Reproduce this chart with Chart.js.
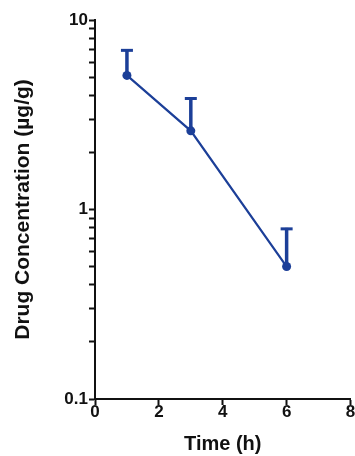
<!DOCTYPE html>
<html>
<head>
<meta charset="utf-8">
<script src="https://cdn.jsdelivr.net/npm/chart.js@4"></script>
<style>
  html, body { margin: 0; padding: 0; background: #fff; }
  #wrap { width: 355px; height: 456px; }
</style>
</head>
<body>
<div id="wrap"><canvas id="c" width="355" height="456"></canvas></div>
<script>
// Drug concentration vs time, log y-axis, upward-only SD bars.

const timeH = [1, 3, 6];
const concMean = [5.1, 2.6, 0.5];
const concSD = [1.9, 1.3, 0.3];
const xTicks = [0, 2, 4, 6, 8];
const yLabels = [0.1, 1, 10];

const BLUE = '#1c3f98';
const INK = '#111';
const FONT = { family: 'Liberation Sans, Arial, sans-serif', weight: 'bold' };

// every 1..9 step of each decade, for the minor tick marks
const yTicks = [];
[0.1, 1].forEach((d) => {
  for (let k = 1; k <= 9; k++) yTicks.push(+(k * d).toFixed(2));
});
yTicks.push(10);

// draw the SD whiskers (upper only) with the chart's own scales
const errorBars = {
  id: 'errorBars',
  afterDatasetsDraw(chart) {
    const { ctx, scales: { x, y } } = chart;
    ctx.save();
    ctx.strokeStyle = BLUE;
    ctx.lineCap = 'butt';
    timeH.forEach((t, i) => {
      const px = x.getPixelForValue(t);
      const py0 = y.getPixelForValue(concMean[i]);
      const py1 = y.getPixelForValue(concMean[i] + concSD[i]);
      ctx.lineWidth = 3.5;
      ctx.beginPath();
      ctx.moveTo(px, py0);
      ctx.lineTo(px, py1);
      ctx.stroke();
      ctx.lineWidth = 3;
      ctx.beginPath();
      ctx.moveTo(px - 6, py1 + 1);
      ctx.lineTo(px + 6, py1 + 1);
      ctx.stroke();
    });
    ctx.restore();
  },
};

new Chart(document.getElementById('c'), {
  type: 'line',
  data: {
    datasets: [{
      data: timeH.map((t, i) => ({ x: t, y: concMean[i] })),
      borderColor: BLUE,
      backgroundColor: BLUE,
      borderWidth: 2.2,
      pointRadius: 4.5,
      pointBackgroundColor: BLUE,
      pointBorderWidth: 0,
      tension: 0,
    }],
  },
  options: {
    responsive: false,
    animation: false,
    layout: { padding: { top: 20, right: 2, left: 0, bottom: 0 } },
    plugins: { legend: { display: false }, tooltip: { enabled: false } },
    scales: {
      x: {
        type: 'linear',
        min: 0,
        max: 8,
        afterBuildTicks: (s) => { s.ticks = xTicks.map((v) => ({ value: v })); },
        border: { display: true, color: INK, width: 2 },
        grid: { drawOnChartArea: false, drawTicks: true, tickLength: 6, color: INK, tickWidth: 2 },
        ticks: { color: INK, font: { ...FONT, size: 17 }, padding: -3, maxRotation: 0, autoSkip: false },
        title: { display: true, text: 'Time (h)', color: INK, font: { ...FONT, size: 20 }, padding: { top: 4, bottom: 0 } },
        afterFit: (s) => { s.height = 57; },
      },
      y: {
        type: 'logarithmic',
        min: 0.1,
        max: 10,
        afterBuildTicks: (s) => { s.ticks = yTicks.map((v) => ({ value: v, major: yLabels.includes(v) })); },
        border: { display: true, color: INK, width: 2 },
        grid: { drawOnChartArea: false, drawTicks: true, tickLength: 6, color: INK, tickWidth: 2 },
        ticks: {
          color: INK,
          font: { ...FONT, size: 17 },
          padding: 1,
          autoSkip: false,
          callback: (v) => (yLabels.some((l) => Math.abs(l - v) < 1e-9) ? String(v) : ''),
        },
        title: { display: true, text: 'Drug Concentration (µg/g)', color: INK, font: { ...FONT, size: 21 }, padding: { top: 11, bottom: 0 } },
        afterFit: (s) => { s.width = 95; },
      },
    },
  },
  plugins: [errorBars],
});
</script>
</body>
</html>
